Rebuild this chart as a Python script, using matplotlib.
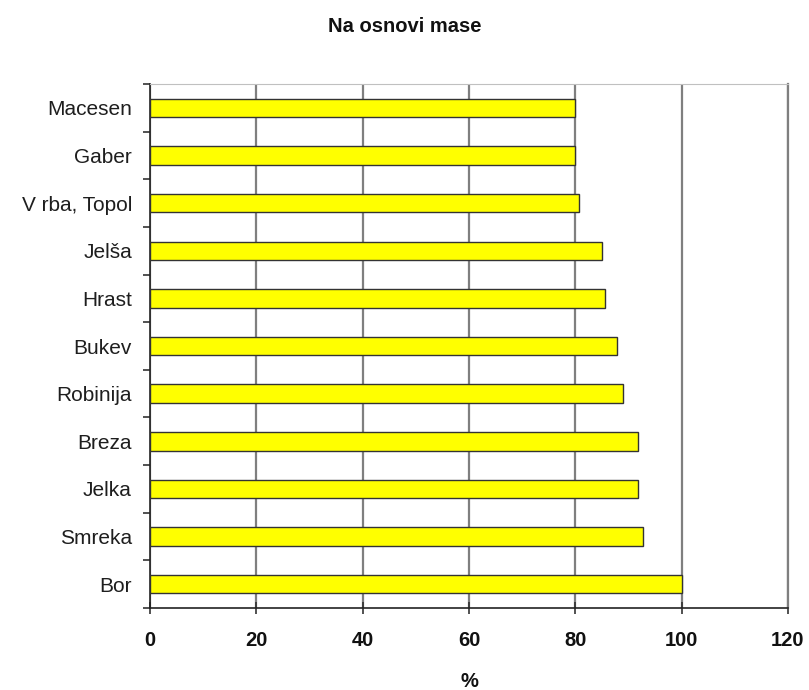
import numpy as np
import matplotlib
matplotlib.use("Agg")
import matplotlib.pyplot as plt

# Vrste drevja (od spodaj navzgor) in delež na osnovi mase (%)
species = ["Bor", "Smreka", "Jelka", "Breza", "Robinija", "Bukev",
           "Hrast", "Jelša", "V rba, Topol", "Gaber", "Macesen"]
values = [100.0, 92.7, 91.8, 91.8, 89.0, 87.8, 85.6, 85.0, 80.7, 80.0, 80.0]
x_ticks = [0, 20, 40, 60, 80, 100, 120]

plt.rcParams["font.family"] = ["Liberation Sans", "DejaVu Sans"]

fig = plt.figure(figsize=(8.09, 6.9), dpi=100)
ax = fig.add_axes([0.1854, 0.119, 0.7886, 0.759])

pos = np.arange(len(species))
ax.barh(pos, values, height=0.39, color="#ffff00", edgecolor="#333333",
        linewidth=1.0, zorder=3)

ax.set_xlim(0, 120)
ax.set_ylim(-0.5, len(species) - 0.5)

# navpične mrežne črte
ax.set_xticks(x_ticks)
ax.set_xticklabels([str(t) for t in x_ticks], fontsize=14.5, fontweight="bold",
                   color="#111111")
ax.grid(axis="x", color="#7f7f7f", linewidth=1.6, zorder=1)

ax.set_yticks(pos)
ax.set_yticklabels(species, fontsize=15, color="#1e1e1e")
ax.set_yticks(np.arange(-0.5, len(species), 1.0), minor=True)
ax.tick_params(axis="y", which="major", length=0, pad=13)
ax.tick_params(axis="y", which="minor", length=5, width=1.2, direction="out",
               color="#333333")
ax.tick_params(axis="x", which="major", length=9, width=1.2, direction="inout",
               pad=12, color="#333333")

ax.spines["left"].set_color("#222222")
ax.spines["left"].set_linewidth(1.2)
ax.spines["bottom"].set_color("#222222")
ax.spines["bottom"].set_linewidth(1.2)
ax.spines["top"].set_color("#c0c0c0")
ax.spines["right"].set_color("#7f7f7f")
ax.spines["right"].set_linewidth(1.6)

ax.set_xlabel("%", fontsize=14.5, fontweight="bold", labelpad=16, color="#111111")
fig.text(0.5, 0.962, "Na osnovi mase", ha="center", va="center",
         fontsize=14.5, fontweight="bold", color="#111111")

fig.savefig("out.png", dpi=100)
